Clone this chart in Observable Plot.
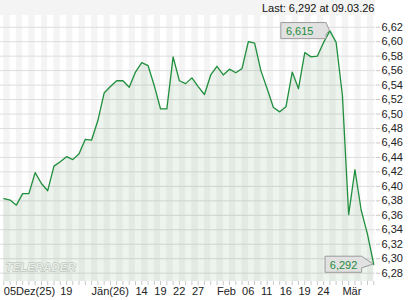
<!DOCTYPE html>
<html>
<head>
<meta charset="utf-8">
<script src="https://cdn.jsdelivr.net/npm/d3@7"></script>
<script src="https://cdn.jsdelivr.net/npm/@observablehq/plot@0.6"></script>
<style>
  html, body { margin: 0; padding: 0; background: #fff; }
  #chart {
    width: 420px; height: 300px;
    background: linear-gradient(#f4f4f4, #f4f4f4) no-repeat 0 0 / 375px 15px;
  }
</style>
</head>
<body>
<div id="chart"></div>
<script>
// Daily closing prices, 05 Dec 2025 – 09 Mar 2026 (one value per trading day)
const prices = [
  6.383, 6.381, 6.374, 6.390, 6.390, 6.419, 6.404, 6.394, 6.428, 6.434,
  6.441, 6.437, 6.445, 6.465, 6.464, 6.491, 6.529, 6.538, 6.546, 6.546,
  6.537, 6.558, 6.571, 6.567, 6.539, 6.507, 6.507, 6.579, 6.546, 6.542,
  6.550, 6.538, 6.527, 6.554, 6.566, 6.554, 6.562, 6.557, 6.563, 6.600,
  6.598, 6.560, 6.535, 6.509, 6.503, 6.510, 6.558, 6.535, 6.585, 6.579,
  6.580, 6.599, 6.615, 6.599, 6.526, 6.361, 6.423, 6.367, 6.334, 6.292
];
// X axis: trading-day index of each label and its text
const xTickIndex  = [0, 9, 14, 21, 24, 27, 30, 34, 38, 41, 44, 47, 50, 54];
const xTickLabels = ["05Dez(25)", "19", "Jän(26)", "14", "19", "22", "27", "Feb", "06", "11", "16", "19", "24", "Mär"];
// Y axis tick values
const yTicks = [6.28, 6.30, 6.32, 6.34, 6.36, 6.38, 6.40, 6.42, 6.44, 6.46, 6.48, 6.50, 6.52, 6.54, 6.56, 6.58, 6.60, 6.62];
const lastDate = "09.03.26";

const fmt = v => v.toFixed(2).replace(".", ",");
const fmt3 = v => v.toFixed(3).replace(".", ",");
const idx = d3.range(prices.length);
const data = idx.map(i => ({i, v: prices[i]}));
const maxI = d3.maxIndex(prices);
const lastI = prices.length - 1;
const yMin = 6.2685, yMax = 6.6362;
const labelOf = new Map(xTickIndex.map((t, k) => [t, xTickLabels[k]]));
const stripes = idx.filter(i => i % 2 === 0 && i < lastI);
const callouts = [
  {i: maxI, v: prices[maxI], pointer: 3.3, padL: 4.6},
  {i: lastI, v: prices[lastI], pointer: 11.6, padL: 4.3}
];

const marks = [
  Plot.rect(stripes, {x1: d => d, x2: d => d + 1, fill: "#f4f4f4"}),
  Plot.gridY(yTicks, {stroke: "#dddddd", strokeOpacity: 1}),
  Plot.text(["TELERADER"], {frameAnchor: "bottom-left", dx: 5, dy: -11, textAnchor: "start",
    text: d => d, fontSize: 11.5, fontWeight: "bold", fontStyle: "italic",
    fill: "#f8f8f8", stroke: "#bcbcbc", strokeWidth: 0.9, letterSpacing: "0.5px"}),
  Plot.areaY(data, {x: "i", y1: yMin, y2: "v", fill: "#3a8a3a", fillOpacity: 0.09}),
  Plot.lineY(data, {x: "i", y: "v", stroke: "#1f8f3d", strokeWidth: 1.3}),
  Plot.axisY(yTicks, {anchor: "right", label: null, tickSize: 4, tickPadding: 2, tickFormat: fmt,
    fontSize: 11, fill: "#222", stroke: "#c8c8c8"}),
  Plot.axisX(idx, {anchor: "bottom", label: null, tickSize: 4, fill: "none", stroke: "#c8c8c8"}),
  Plot.axisX(xTickIndex, {anchor: "bottom", label: null, tickSize: 0, tickPadding: 6, textAnchor: "start",
    tickFormat: d => labelOf.get(d), fontSize: 11, fill: "#222"}),
  Plot.text([`Last: ${fmt3(prices[lastI])} at ${lastDate}`], {frameAnchor: "top-right", dx: -1, dy: -7.5,
    text: d => d, fontSize: 11, fill: "#111", lineAnchor: "middle"}),
  Plot.text(callouts, {x: "i", y: "v", text: d => fmt3(d.v), textAnchor: "end", dx: -16.4, dy: 0.5,
    lineAnchor: "middle", fontSize: 11, fill: "#1e8a3c"})
];

const chart = Plot.plot({
  width: 420, height: 300,
  marginTop: 15, marginBottom: 19, marginLeft: 0, marginRight: 45,
  x: {type: "linear", domain: [-0.53, 59.28], label: null},
  y: {domain: [yMin, yMax], label: null},
  style: {fontFamily: "'Liberation Sans', Arial, sans-serif", fontSize: "11px", background: "transparent", overflow: "visible"},
  marks
});
document.getElementById("chart").appendChild(chart);

// Callout boxes behind the value labels, with a pointer to the data point
const sx = chart.scale("x"), sy = chart.scale("y");
const calloutTexts = Array.from(chart.querySelectorAll("text"))
  .filter(t => callouts.some(c => t.textContent === fmt3(c.v)));
callouts.forEach(c => {
  const t = calloutTexts.find(el => el.textContent === fmt3(c.v));
  if (!t) return;
  const b = t.getBBox();
  const m = t.getCTM(), sm = chart.getScreenCTM ? chart.getCTM() : null;
  const px = sx.apply(c.i), py = sy.apply(c.v);
  const tx = px - 16.4 - b.width; // text start
  const x0 = tx - c.padL, x1 = px - c.pointer;
  const y0 = py - 7.8, y1 = py + 8.3, yb = y1 - 4.4;
  const path = document.createElementNS("http://www.w3.org/2000/svg", "path");
  path.setAttribute("d", `M${x0},${y0}H${x1}L${px},${py}L${x1},${yb}V${y1}H${x0}Z`);
  path.setAttribute("fill", "#e1e1e1");
  path.setAttribute("stroke", "#9c9c9c");
  path.setAttribute("stroke-width", "1");
  const g = t.closest("g[aria-label]") || t.parentNode;
  g.parentNode.insertBefore(path, g);
});
</script>
</body>
</html>
